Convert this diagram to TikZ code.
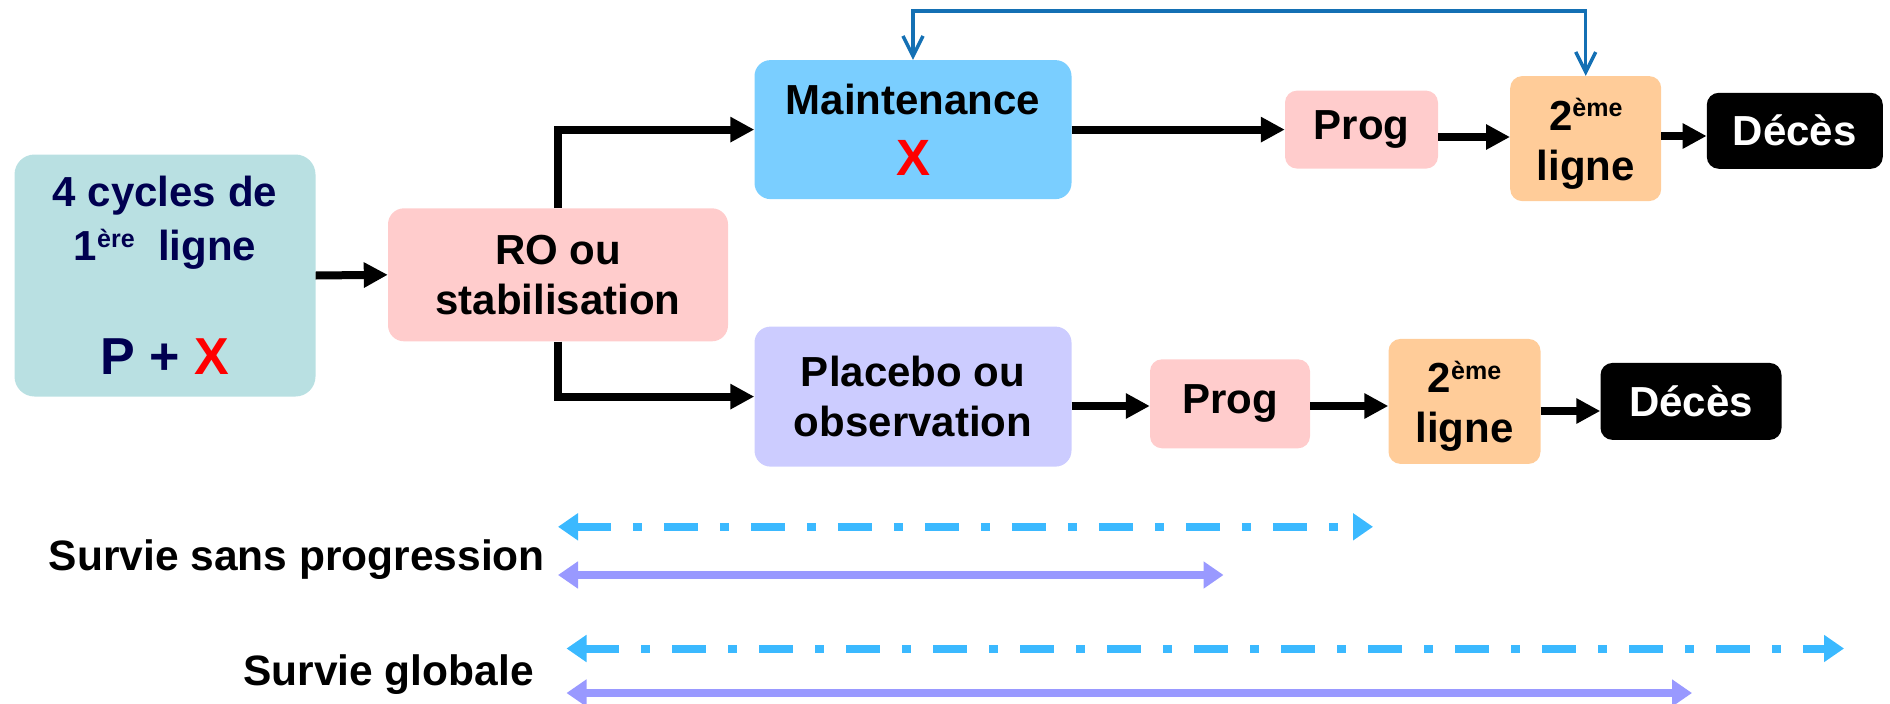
\documentclass[tikz,border=0pt]{standalone}
\usepackage{fontspec}
\setmainfont{Liberation Sans}
\usetikzlibrary{arrows.meta,calc}
\definecolor{tealbox}{RGB}{185,224,226}
\definecolor{pinkbox}{RGB}{255,204,204}
\definecolor{bluebox}{RGB}{122,206,255}
\definecolor{lavbox}{RGB}{204,204,255}
\definecolor{orangebox}{RGB}{255,204,153}
\definecolor{navytext}{RGB}{0,0,80}
\definecolor{fbblue}{RGB}{20,112,180}
\definecolor{dashblue}{RGB}{59,185,255}
\definecolor{lavline}{RGB}{153,153,255}
\newcommand{\sups}[1]{\smash{\raisebox{13.5pt}{\fontsize{25}{25}\selectfont #1}}}
\begin{document}
\begin{tikzpicture}[x=1pt,y=-1pt,
  box/.style={rounded corners=16pt, align=center, inner sep=0pt,
    font=\fontsize{42}{50}\selectfont\bfseries},
  blk/.style={line width=8pt, black, -{Triangle[length=24pt,width=24pt]}},
  fb/.style={line width=3.5pt, fbblue, {Straight Barb[length=20pt,width=20pt,line width=3.5pt]}-{Straight Barb[length=20pt,width=20pt,line width=3.5pt]}},
  dd/.style={line width=8pt, dashblue, dash pattern=on 34pt off 22pt on 9pt off 22pt, {Triangle[length=20pt,width=26pt]}-{Triangle[length=20pt,width=26pt]}},
  sl/.style={line width=8pt, lavline, {Triangle[length=20pt,width=26pt]}-{Triangle[length=20pt,width=26pt]}},
  lab/.style={font=\fontsize{42.5}{50}\selectfont\bfseries, inner sep=0pt, anchor=base east}
]
\useasboundingbox (0,0) rectangle (1890,704);

% nodes
\node[box, fill=tealbox, text=navytext, minimum width=301pt, minimum height=242pt, rounded corners=20pt] (cyc) at (165,275.5)
  {4 cycles de\\[4pt]1\sups{ère}\ \ ligne\\[64pt]{\fontsize{52}{62}\selectfont P + \textcolor{red}{X}}};
\node[box, fill=pinkbox, minimum width=340pt, minimum height=133pt] (ro) at (558,274.8) {RO ou\\stabilisation};
\node[box, fill=bluebox, minimum width=317pt, minimum height=139pt] (maint) at (913,129.6)
  {Maintenance\\[11pt]{\fontsize{51}{60}\selectfont\textcolor{red}{X}}};
\node[box, fill=pinkbox, minimum width=153pt, minimum height=78pt, rounded corners=12pt] (prog1) at (1361.5,129.6) {Prog};
\node[box, fill=orangebox, minimum width=151pt, minimum height=125pt, rounded corners=12pt] (deux1) at (1585.7,138.6) {\rule{0pt}{42pt}2\sups{ème}\\ligne};
\node[box, fill=black, text=white, minimum width=176pt, minimum height=76pt, rounded corners=12pt] (dc1) at (1794.8,130.8) {Décès};

\node[box, fill=lavbox, minimum width=317pt, minimum height=140pt] (plac) at (913,396.6) {Placebo ou\\observation};
\node[box, fill=pinkbox, minimum width=160pt, minimum height=89pt, rounded corners=12pt] (prog2) at (1230,403.8) {Prog};
\node[box, fill=orangebox, minimum width=152pt, minimum height=125pt, rounded corners=12pt] (deux2) at (1464.5,401.4) {\rule{0pt}{42pt}2\sups{ème}\\ligne};
\node[box, fill=black, text=white, minimum width=181pt, minimum height=77pt, rounded corners=12pt] (dc2) at (1691,401.4) {Décès};

% black connectors
\draw[blk] (cyc.east) -- (ro.west);
\draw[blk] (ro.north) |- (maint.west);
\draw[blk] (ro.south) |- (plac.west);
\draw[blk] (maint.east) -- (prog1.west);
\draw[blk] (prog1.east |- 0,137) -- (deux1.west |- 0,137);
\draw[blk] (deux1.east |- 0,136) -- (dc1.west |- 0,136);
\draw[blk] (plac.east |- 0,406) -- (prog2.west |- 0,406);
\draw[blk] (prog2.east |- 0,406) -- (deux2.west |- 0,406);
\draw[blk] (deux2.east |- 0,411) -- (dc2.west |- 0,411);

% feedback
\coordinate (fbtop) at (0,11);
\draw[fb] (maint.north) -- (maint.north |- fbtop) -| (deux1.north);

% survival
\node[lab] (pfs) at (545,570) {Survie sans progression};
\node[lab] (os) at (534,685) {Survie globale};
\coordinate (a1) at (558,526.8); \coordinate (b1) at (1373,526.8);
\coordinate (a2) at (558,575); \coordinate (b2) at (1223.5,575);
\coordinate (a3) at (566.5,648.5); \coordinate (b3) at (1844,648.5);
\coordinate (a4) at (566.5,693); \coordinate (b4) at (1692,693);
\draw[dd] (a1) -- (b1);
\draw[sl] (a2) -- (b2);
\draw[dd] (a3) -- (b3);
\draw[sl] (a4) -- (b4);
\end{tikzpicture}
\end{document}
